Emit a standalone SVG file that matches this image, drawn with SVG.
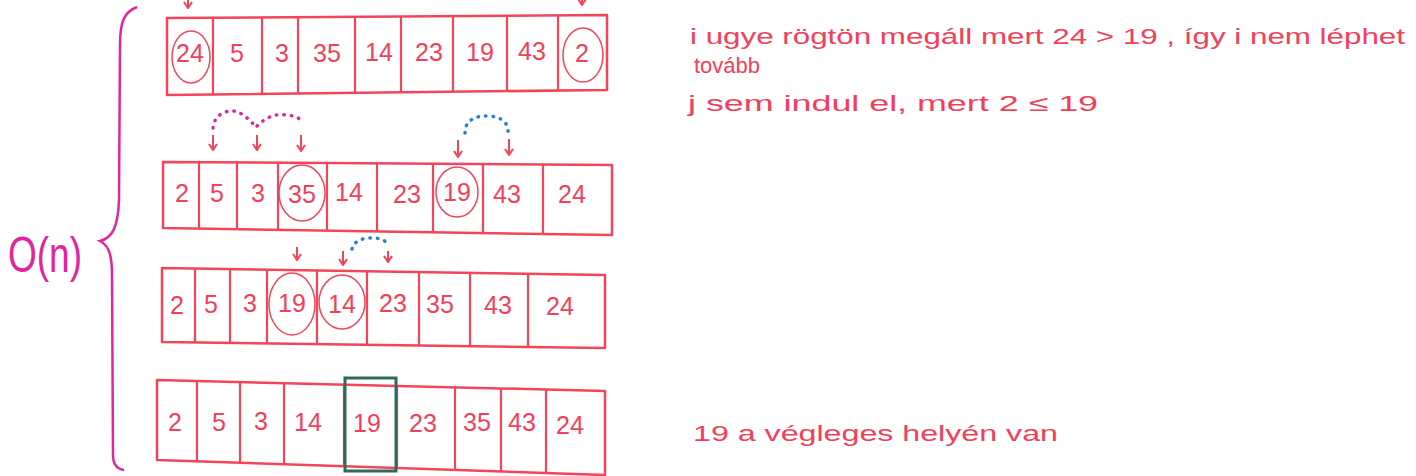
<svg xmlns="http://www.w3.org/2000/svg" width="1416" height="476" viewBox="0 0 1416 476">
<style>
.box{fill:none;stroke:#f2455a;stroke-width:2.5;stroke-linejoin:round}
.div{stroke:#f2455a;stroke-width:2.2}
.num{font-family:"Liberation Sans",Arial,sans-serif;font-size:25px;fill:#f0405a;text-anchor:middle}
.circ{fill:none;stroke:#f2455a;stroke-width:1.5}
.arr{stroke:#f2455a;stroke-width:2;fill:none;marker-end:url(#ah)}
.dotm{fill:none;stroke:#d82aa8;stroke-width:3.5;stroke-linecap:round;stroke-dasharray:0.5 7}
.dotb{fill:none;stroke:#2a7be0;stroke-width:3.5;stroke-linecap:round;stroke-dasharray:0.5 7}
.note{font-family:"Liberation Sans",Arial,sans-serif;font-size:22px;fill:#f0405a}
</style>
<defs>
<marker id="ah" viewBox="0 0 10 10" refX="9" refY="5" markerWidth="10" markerHeight="10" markerUnits="userSpaceOnUse" orient="auto">
<path d="M3,1 L9,5 L3,9" fill="none" stroke="#f2455a" stroke-width="2"/>
</marker>
</defs>
<rect width="1416" height="476" fill="#ffffff"/>

<g id="brace">
<path d="M137,7 C124,12 120,22 120,45 L119,200 C118,228 112,238 100,241 C110,246 112,258 112,275 L113,455 C113,464 117,469 124,470" fill="none" stroke="#e0269e" stroke-width="2.5"/>
<text x="45" y="272" font-family="Liberation Sans,Arial,sans-serif" font-size="50" fill="#e0269e" text-anchor="middle" textLength="74" lengthAdjust="spacingAndGlyphs">O(n)</text>
</g>

<g id="row1">
<polygon class="box" points="167,18 607,15 607,90 167,95"/>
<line class="div" x1="213" y1="17.7" x2="213" y2="94.5"/>
<line class="div" x1="262" y1="17.4" x2="262" y2="93.9"/>
<line class="div" x1="298" y1="17.1" x2="298" y2="93.5"/>
<line class="div" x1="355" y1="16.7" x2="355" y2="92.9"/>
<line class="div" x1="401" y1="16.4" x2="401" y2="92.3"/>
<line class="div" x1="453" y1="16" x2="453" y2="91.7"/>
<line class="div" x1="507" y1="15.7" x2="507" y2="91.1"/>
<line class="div" x1="558" y1="15.3" x2="558" y2="90.6"/>
<text class="num" x="190" y="62">24</text>
<text class="num" x="237" y="62">5</text>
<text class="num" x="282" y="62">3</text>
<text class="num" x="327" y="62">35</text>
<text class="num" x="379" y="61">14</text>
<text class="num" x="429" y="61">23</text>
<text class="num" x="480" y="61">19</text>
<text class="num" x="532" y="60">43</text>
<text class="num" x="582" y="62">2</text>
<ellipse class="circ" cx="191" cy="57" rx="19" ry="26"/>
<ellipse class="circ" cx="583" cy="55" rx="20" ry="27"/>
</g>

<g id="row2">
<polygon class="box" points="163,162 612,165 612,235 163,228"/>
<line class="div" x1="199" y1="162.2" x2="199" y2="228.6"/>
<line class="div" x1="237" y1="162.5" x2="237" y2="229.2"/>
<line class="div" x1="278" y1="162.8" x2="278" y2="229.8"/>
<line class="div" x1="327" y1="163.1" x2="327" y2="230.6"/>
<line class="div" x1="377" y1="163.4" x2="377" y2="231.3"/>
<line class="div" x1="433" y1="163.8" x2="433" y2="232.2"/>
<line class="div" x1="483" y1="164.1" x2="483" y2="233"/>
<line class="div" x1="543" y1="164.5" x2="543" y2="233.9"/>
<text class="num" x="182" y="202">2</text>
<text class="num" x="217" y="202">5</text>
<text class="num" x="258" y="202">3</text>
<text class="num" x="302" y="203">35</text>
<text class="num" x="349" y="201">14</text>
<text class="num" x="407" y="203">23</text>
<text class="num" x="457" y="201">19</text>
<text class="num" x="507" y="203">43</text>
<text class="num" x="572" y="203">24</text>
<ellipse class="circ" cx="302" cy="193" rx="23" ry="28"/>
<ellipse class="circ" cx="457" cy="192" rx="21" ry="25"/>
</g>

<g id="row3">
<polygon class="box" points="162,268 605,275 605,348 162,342"/>
<line class="div" x1="195" y1="268.5" x2="195" y2="342.4"/>
<line class="div" x1="230" y1="269.1" x2="230" y2="342.9"/>
<line class="div" x1="267" y1="269.7" x2="267" y2="343.4"/>
<line class="div" x1="317" y1="270.5" x2="317" y2="344.1"/>
<line class="div" x1="367" y1="271.2" x2="367" y2="344.8"/>
<line class="div" x1="419" y1="272.1" x2="419" y2="345.5"/>
<line class="div" x1="470" y1="272.9" x2="470" y2="346.2"/>
<line class="div" x1="528" y1="273.8" x2="528" y2="347"/>
<text class="num" x="177" y="314">2</text>
<text class="num" x="211" y="313">5</text>
<text class="num" x="250" y="312">3</text>
<text class="num" x="292" y="312">19</text>
<text class="num" x="342" y="313">14</text>
<text class="num" x="393" y="312">23</text>
<text class="num" x="440" y="313">35</text>
<text class="num" x="498" y="314">43</text>
<text class="num" x="560" y="315">24</text>
<ellipse class="circ" cx="292" cy="304" rx="23" ry="31"/>
<ellipse class="circ" cx="342" cy="302" rx="23" ry="27"/>
</g>

<g id="row4">
<polygon class="box" points="157,380 605,391 605,475 157,460"/>
<line class="div" x1="197" y1="381" x2="197" y2="461.3"/>
<line class="div" x1="240" y1="382" x2="240" y2="462.8"/>
<line class="div" x1="284" y1="383.1" x2="284" y2="464.2"/>
<line class="div" x1="344" y1="384.6" x2="344" y2="466.3"/>
<line class="div" x1="397" y1="385.9" x2="397" y2="468"/>
<line class="div" x1="455" y1="387.3" x2="455" y2="470"/>
<line class="div" x1="501" y1="388.4" x2="501" y2="471.5"/>
<line class="div" x1="546" y1="389.6" x2="546" y2="473"/>
<text class="num" x="175" y="431">2</text>
<text class="num" x="219" y="431">5</text>
<text class="num" x="261" y="430">3</text>
<text class="num" x="308" y="431">14</text>
<text class="num" x="367" y="432">19</text>
<text class="num" x="423" y="432">23</text>
<text class="num" x="477" y="431">35</text>
<text class="num" x="522" y="431">43</text>
<text class="num" x="570" y="434">24</text>
<rect x="345" y="378" width="51" height="93" fill="none" stroke="#2f6b5c" stroke-width="3"/>
</g>

<g id="connectors">
<line class="arr" x1="188" y1="0" x2="188" y2="8"/>
<line class="arr" x1="582" y1="-4" x2="582" y2="5"/>
<path class="dotm" d="M213,128 C214,112 232,108 240,113 C245,116 250,120 256,127"/>
<path class="dotm" d="M257,126 C265,118 275,113 286,115 C296,116 301,118 302,124"/>
<line class="arr" x1="213" y1="135" x2="213" y2="150"/>
<line class="arr" x1="257" y1="135" x2="257" y2="150"/>
<line class="arr" x1="301" y1="135" x2="301" y2="151"/>
<path class="dotb" d="M465,133 C465,120 475,116 487,116 C500,116 509,122 508,133"/>
<line class="arr" x1="458" y1="140" x2="458" y2="157"/>
<line class="arr" x1="509" y1="139" x2="509" y2="155"/>
<path class="dotb" d="M352,249 C354,240 364,238 372,238 C382,238 387,241 387,246"/>
<line class="arr" x1="297" y1="247" x2="297" y2="260"/>
<line class="arr" x1="343" y1="251" x2="343" y2="265"/>
<line class="arr" x1="388" y1="251" x2="388" y2="262"/>
</g>

<g id="notes">
<text class="note" x="690" y="44" textLength="715" lengthAdjust="spacingAndGlyphs">i ugye rögtön megáll mert 24 &gt; 19 , így i nem léphet</text>
<text class="note" x="694" y="73">tovább</text>
<text class="note" x="688" y="111" textLength="410" lengthAdjust="spacingAndGlyphs">j sem indul el, mert 2 ≤ 19</text>
<text class="note" x="693" y="441" textLength="365" lengthAdjust="spacingAndGlyphs">19 a végleges helyén van</text>
</g>
</svg>
